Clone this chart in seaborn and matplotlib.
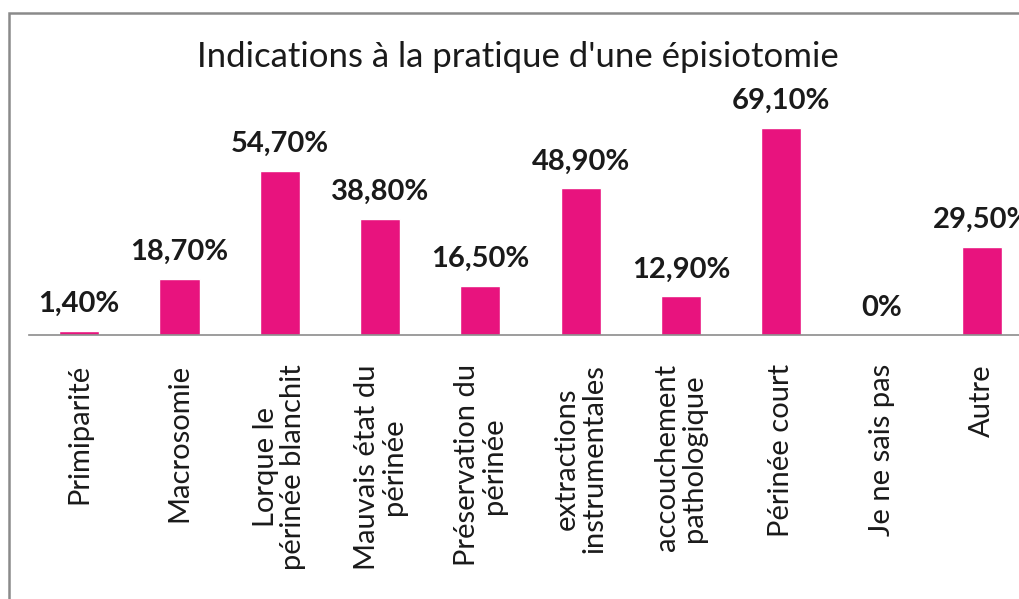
import matplotlib
matplotlib.use('Agg')
import matplotlib.pyplot as plt
import matplotlib.patches as patches
import seaborn as sns

sns.set_style('white')
plt.rcParams['font.family'] = ['Lato', 'DejaVu Sans']

categories = ['Primiparité', 'Macrosomie', 'Lorque le\npérinée blanchit',
              'Mauvais état du\npérinée', 'Préservation du\npérinée',
              'extractions\ninstrumentales', 'accouchement\npathologique',
              'Périnée court', 'Je ne sais pas', 'Autre']
values = [1.4, 18.7, 54.7, 38.8, 16.5, 48.9, 12.9, 69.1, 0.0, 29.5]
value_labels = ['1,40%', '18,70%', '54,70%', '38,80%', '16,50%',
                '48,90%', '12,90%', '69,10%', '0%', '29,50%']

bar_color = '#E8137E'

fig = plt.figure(figsize=(10.19, 5.99), dpi=100)
# axes run past the right edge, as in the cropped original
ax = fig.add_axes([29 / 1019, 1 - 335 / 599, 1003 / 1019, 240 / 599])

sns.barplot(x=categories, y=values, color=bar_color, saturation=1,
            width=0.4, ax=ax)
ax.set_ylim(0, 80)
ax.set_xlim(-0.5, len(categories) - 0.5)

ax.bar_label(ax.containers[0], labels=value_labels, padding=10,
             fontsize=21, fontweight='bold', color='#1a1a1a')

for s in ['top', 'left', 'right']:
    ax.spines[s].set_visible(False)
ax.spines['bottom'].set_color('#8c8c8c')
ax.spines['bottom'].set_linewidth(1.2)
ax.set_yticks([])
ax.set_xlabel('')
ax.set_ylabel('')
ax.tick_params(axis='x', length=0, pad=21)
for lbl in ax.get_xticklabels():
    lbl.set_rotation(90)
    lbl.set_fontsize(21)
    lbl.set_color('#1a1a1a')
    lbl.set_multialignment('center')
    lbl.set_va('top')
    lbl.set_ha('center')
    lbl.set_linespacing(1.05)

fig.text(518 / 1019, 1 - 57 / 599, "Indications à la pratique d'une épisiotomie",
         ha='center', va='center', fontsize=25, color='#1a1a1a')

# outer chart border (cropped at right and bottom)
border = patches.Rectangle((9 / 1019, -0.1), 1.2, 1 - 13 / 599 + 0.1,
                           transform=fig.transFigure, fill=False,
                           edgecolor='#8a8a8a', linewidth=1.8, clip_on=False)
fig.patches.append(border)

fig.savefig('out.png', dpi=100)
